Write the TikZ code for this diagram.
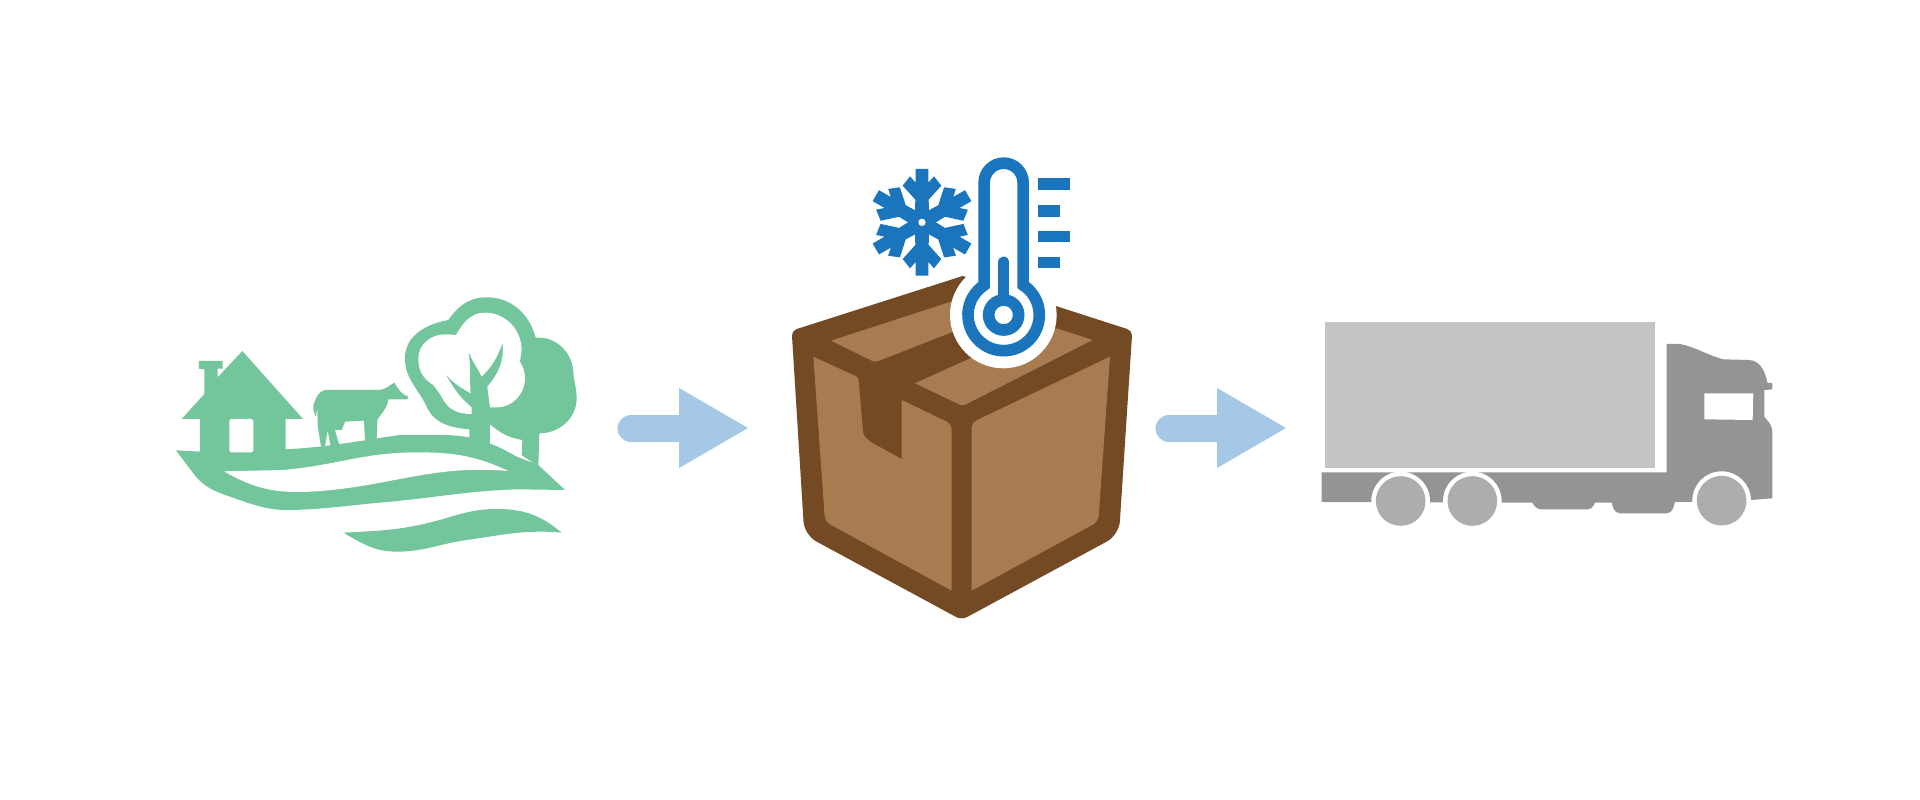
\documentclass[tikz,border=0pt]{standalone}
\definecolor{farmgreen}{HTML}{73C59B}
\definecolor{arrowblue}{HTML}{A4C8E5}
\definecolor{boxdark}{HTML}{744A25}
\definecolor{boxlight}{HTML}{A87C50}
\definecolor{coldblue}{HTML}{1B75BC}
\definecolor{cabgrey}{HTML}{949496}
\definecolor{cargogrey}{HTML}{C3C4C6}
\definecolor{wheelgrey}{HTML}{ADADAF}
\tikzset{
    zoomed/.style={x=0.0066667cm,y=-0.0066667cm},
    farmfill/.style={fill=farmgreen},
    coldline/.style={draw=coldblue,line width=0.233cm},
}
\begin{document}
\begin{tikzpicture}[x=0.02cm,y=-0.02cm]
    \useasboundingbox (0,0) rectangle (1920,800);
    \fill[white] (0,0) rectangle (1920,800);

    % Farm: house, ground, cow, tree
    \begin{scope}[shift={(150,270)},zoomed]
        \fill[farmfill] (78,541) -- (150,545) -- (150,447) -- (95,447) -- (163,372) -- (163,298)
            -- (147,296) -- (147,273) -- (218,273) -- (218,296) -- (203,296) -- (203,322)
            -- (277,243) -- (459,447) -- (407,447) -- (407,538)
            to[out=3,in=188] (750,495) -- (870,495) to[out=0,in=150] (1100,560)
            -- (1165,585) -- (1245,660) -- (1100,658)
            to[out=182,in=5] (700,697) to[out=185,in=2] (430,720) to[out=182,in=-19] (240,680)
            to[out=161,in=-53] (130,610) -- cycle;
        % River and door
        \fill[white] (222,604) -- (400,600) to[out=5,in=180] (800,547) to[out=0,in=155] (1075,603)
            to[out=175,in=3] (480,665) to[out=183,in=-30] cycle;
        \fill[white,rounded corners=0.03cm] (238,447) rectangle (310,547);
        % Cow
        \fill[farmfill] (530,360) -- (690,360) to[out=10,in=-150] (733,338) to[out=-60,in=160] (775,380) -- (772,388)
            -- (715,388) to[out=-95,in=60] (682,450) -- (680,510) -- (645,515) -- (642,452) -- (585,455)
            -- (575,480) -- (555,480) -- (568,525) -- (542,530) -- (533,480) -- (525,530) -- (513,530)
            -- (503,465) -- (502,415) -- (497,440) to[out=110,in=-110] (492,400) to[out=70,in=180] (530,360) -- cycle;
        % Tree
        \fill[farmfill] (958,510) -- (958,478) to[out=175,in=-65] (830,410) to[out=115,in=-90] (765,265)
            to[out=90,in=190] (895,150) to[out=55,in=180] (1010,82) to[out=0,in=105] (1157,203)
            to[out=5,in=90] (1270,310) to[out=-85,in=90] (1280,385) to[out=-90,in=0] (1168,490)
            -- (1165,590) -- (1115,555) -- (1117,510) to[out=170,in=-40] (1020,463) -- (1020,520) -- cycle;
        \fill[white] (965,432) to[out=180,in=-60] (880,390) to[out=115,in=-55] (850,345)
            to[out=150,in=-90] (805,265) to[out=90,in=180] (885,193) to[out=0,in=175] (918,195)
            to[out=60,in=180] (1005,128) to[out=0,in=90] (1115,240) -- (1110,275)
            to[out=-60,in=90] (1125,325) to[out=-90,in=0] (1040,412) -- (1020,412) -- (1012,350)
            to[out=50,in=-85] (1058,218) to[out=-110,in=45] (995,320) to[out=115,in=-70] (955,243)
            to[out=-80,in=95] (962,370) to[out=150,in=-50] (885,310) to[out=-60,in=140] (965,412) -- cycle;
        % Lower swoosh
        \fill[farmfill] (580,788) to[out=3,in=193] (830,760) to[out=13,in=180] (1040,717) to[out=0,in=140] (1235,788)
            to[out=175,in=8] (950,810) to[out=188,in=0] (740,845) to[out=180,in=-30] cycle;
    \end{scope}

    % Arrows between the stages
    \foreach \x in {0,538} {
        \fill[arrowblue,xshift=\x*0.02cm] (631,415) -- (679,415) -- (679,388) -- (748,428) -- (679,468)
            -- (679,442) -- (631,442) arc (90:270:13.5) -- cycle;
    }

    % Cardboard box
    \begin{scope}[shift={(770,140)},zoomed]
        \fill[boxdark] (578,408) [rounded corners=0.1cm] -- (1087,572) [rounded corners=0.27cm] -- (1047,1185)
            [rounded corners=0.12cm] -- (575,1440) [rounded corners=0.27cm] -- (103,1185)
            [rounded corners=0.1cm] -- (65,572) [sharp corners] -- cycle;
        \fill[boxlight] (130,650) [rounded corners=0.04cm] -- (265,712) -- (280,885) -- (300,905)
            [sharp corners] -- (395,957) -- (395,780) [rounded corners=0.1cm] -- (545,852) [sharp corners] -- (545,1352)
            [rounded corners=0.12cm] -- (165,1145) [sharp corners] -- cycle;
        \fill[boxlight] (1020,650) [rounded corners=0.12cm] -- (985,1145) [sharp corners] -- (605,1352)
            [rounded corners=0.1cm] -- (605,848) [sharp corners] -- cycle;
        \fill[boxlight] (183,602) -- (620,460) -- (620,548) [rounded corners=0.06cm] -- (315,667) [sharp corners] -- cycle;
        \fill[boxlight] (435,730) -- (700,610) -- (860,565) -- (968,600) [rounded corners=0.06cm] -- (578,798) [sharp corners] -- cycle;

        % Thermometer
        \fill[white] (700,525) circle[radius=160];
        \draw[coldline] (759.5,435.4) arc (-56.85:236.85:107) -- (642.5,128) arc (180:360:58.5) -- cycle;
        \draw[coldline,line cap=round] (701,367) -- (701,480);
        \draw[coldline] (701,525) circle[radius=45];
        \foreach \ya/\yb/\xb in {115/150/900,195/230/870,272/307/900,350/385/870} {
            \fill[coldblue] (804,\ya) rectangle (\xb,\yb);
        }

        % Snowflake
        \foreach \a in {0,60,...,300} {
            \fill[coldblue,shift={(456,247)},rotate=\a] (-22,0) -- (-20,-68) -- (-58,-110) -- (-36,-138)
                -- (-19,-119) -- (-19,-160) -- (19,-160) -- (19,-119) -- (36,-138) -- (58,-110)
                -- (20,-68) -- (22,0) -- cycle;
        }
        \fill[white] (456,247) circle[radius=11];
    \end{scope}

    % Truck
    \begin{scope}[shift={(1300,300)},zoomed]
        \fill[cargogrey] (75,67) rectangle (1065,503);
        \fill[cabgrey] (65,517) -- (1100,517) -- (1100,132) -- (1140,132) to[out=-12,in=165] (1270,178)
            -- (1345,180) to[out=0,in=100] (1402,248)
            -- (1417,250) -- (1417,268) -- (1393,270) -- (1393,350) [rounded corners=0.1cm] -- (1417,380)
            [sharp corners] -- (1417,595) -- (1352,600) -- (1180,606) -- (1125,606)
            [rounded corners=0.1cm] -- (1115,640) -- (945,640) [sharp corners] -- (935,608) -- (885,608)
            [rounded corners=0.08cm] -- (875,628) -- (710,628) [sharp corners] -- (697,608) -- (65,606) -- cycle;
        \fill[white] (1213,280) -- (1360,280) -- (1358,360) -- (1213,358) -- cycle;
        \foreach \cx/\cy in {302/603,517/603,1265/602} {
            \fill[white] (\cx,\cy) circle[radius=88];
            \fill[wheelgrey] (\cx,\cy) circle[radius=74.5];
        }
    \end{scope}
\end{tikzpicture}
\end{document}
